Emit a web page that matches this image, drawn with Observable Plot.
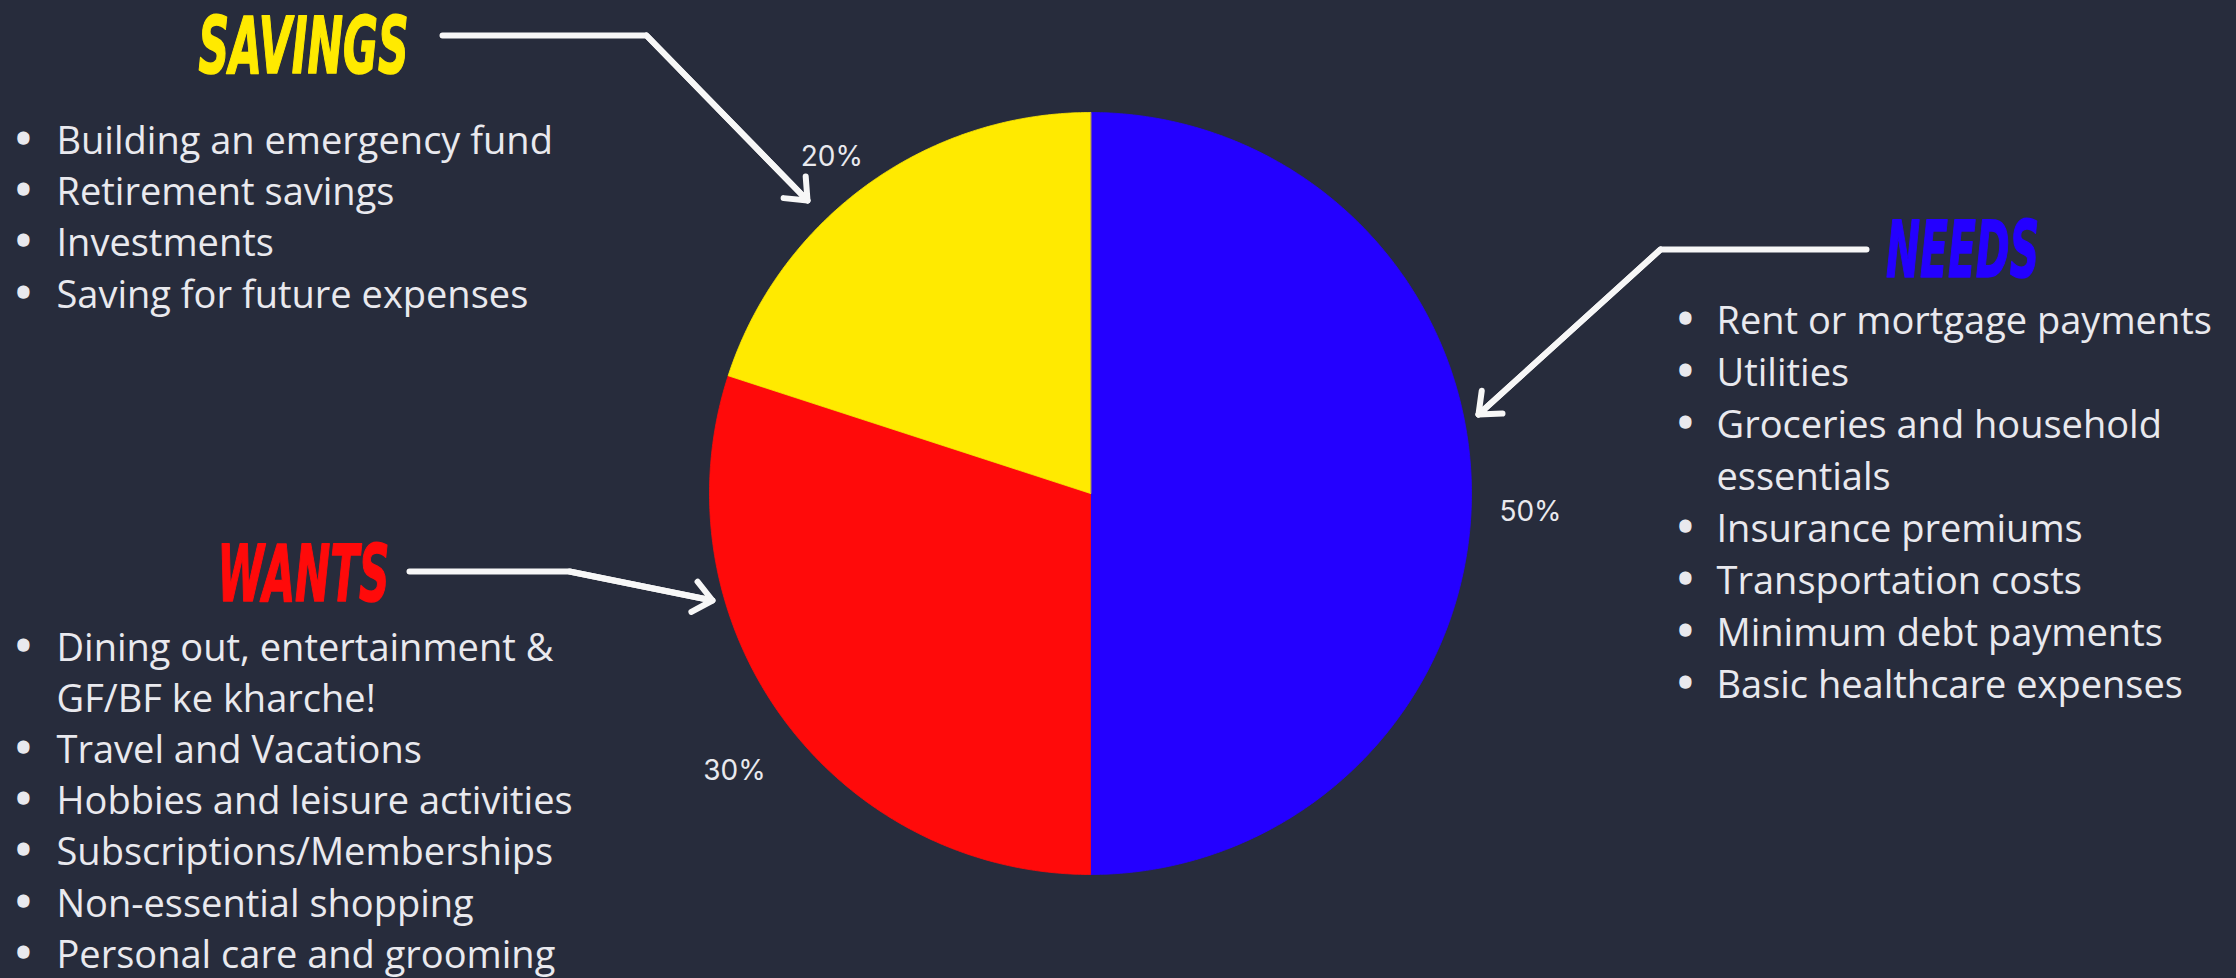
<!DOCTYPE html>
<html><head><meta charset="utf-8">
<script src="https://cdn.jsdelivr.net/npm/d3@7"></script>
<script src="https://cdn.jsdelivr.net/npm/@observablehq/plot@0.6"></script>
<style>
html,body{margin:0;padding:0;background:#272c3c;overflow:hidden;}
#chart svg{display:block;}
</style></head><body><div id="chart"></div>
<script>
// ---- data ----
const categories = ["Needs", "Wants", "Savings"];
const shares = [50, 30, 20];
const shareLabels = ["50%", "30%", "20%"];
const titles = ["NEEDS", "WANTS", "SAVINGS"];
const sliceColors = ["#2400ff", "#ff0a0a", "#ffea00"];
const needsItems = ["Rent or mortgage payments", "Utilities", "Groceries and household\nessentials", "Insurance premiums", "Transportation costs", "Minimum debt payments", "Basic healthcare expenses"];
const wantsItems = ["Dining out, entertainment &\nGF/BF ke kharche!", "Travel and Vacations", "Hobbies and leisure activities", "Subscriptions/Memberships", "Non-essential shopping", "Personal care and grooming"];
const savingsItems = ["Building an emergency fund", "Retirement savings", "Investments", "Saving for future expenses"];

// ---- layout ----
const W = 2236, H = 978;
const BG = "#272c3c";
const TEXT = "#e9e9ee";
const pie = {cx: 1090, cy: 493, r: 381, labelR: 440, labelDy: 19};
const bullet = {lift: 2};
const listLayout = {
  Needs:   {bulletX: 1685, textX: 1716, firstBaseline: 333, step: 52.1},
  Wants:   {bulletX: 23,   textX: 56,   firstBaseline: 660, step: 51.2},
  Savings: {bulletX: 23,   textX: 56,   firstBaseline: 153, step: 51.4}
};
const titleLayout = {
  Needs:   {x: 1962, baseline: 276, length: 153},
  Wants:   {x: 303,  baseline: 600, length: 172},
  Savings: {x: 303,  baseline: 72,  length: 210}
};
const arrowLayout = {
  Needs:   [[1866, 249], [1660, 249], [1478, 414]],
  Wants:   [[409, 571], [569, 571], [712, 600]],
  Savings: [[442, 35], [646, 35], [807, 200]]
};

// ---- derived tables ----
const slices = categories.map((c, i) => ({category: c, share: shares[i], label: shareLabels[i], title: titles[i], color: sliceColors[i]}));
const arcs = d3.pie().sort(null).value(d => d.share)(slices);
const slicePolys = arcs.map(a => {
  const pts = [{x: pie.cx, y: pie.cy}];
  const n = Math.ceil((a.endAngle - a.startAngle) / (Math.PI / 360));
  for (let k = 0; k <= n; k++) {
    const t = a.startAngle + (a.endAngle - a.startAngle) * k / n;
    pts.push({x: pie.cx + pie.r * Math.sin(t), y: pie.cy - pie.r * Math.cos(t)});
  }
  return {color: a.data.color, pts};
});
const pctLabels = arcs.map(a => {
  const t = (a.startAngle + a.endAngle) / 2;
  return {text: a.data.label, x: pie.cx + pie.labelR * Math.sin(t), y: pie.cy - pie.labelR * Math.cos(t) + pie.labelDy};
});

function listRows(items, lay) {
  const rows = []; let i = 0;
  items.forEach(item => item.split("\n").forEach((line, j) => {
    rows.push({line, bullet: j === 0, x: lay.textX, bx: lay.bulletX, y: lay.firstBaseline + i * lay.step});
    i++;
  }));
  return rows;
}
const rows = [
  ...listRows(needsItems, listLayout.Needs),
  ...listRows(wantsItems, listLayout.Wants),
  ...listRows(savingsItems, listLayout.Savings)
];
const bulletRows = rows.filter(r => r.bullet).map(r => ({x: r.bx, y: r.y - bullet.lift}));
const titleRows = slices.map(s => ({text: s.title, color: s.color, ...titleLayout[s.category]}));
const arrowPts = categories.flatMap(c => arrowLayout[c].map(([x, y]) => ({c, x, y})));
const arrowHeads = categories.map(c => {
  const p = arrowLayout[c]; const a = p[p.length - 2], b = p[p.length - 1];
  return {x1: a[0], y1: a[1], x2: b[0], y2: b[1]};
});

const listFont = {fontFamily: "'Open Sans', 'Noto Sans', sans-serif", fontSize: 38, fill: TEXT, lineAnchor: "bottom"};

const chart = Plot.plot({
  width: W, height: H, margin: 0,
  x: {domain: [0, W], range: [0, W], axis: null},
  y: {domain: [0, H], range: [0, H], axis: null},
  style: {background: BG, overflow: "hidden"},
  marks: [
    ...slicePolys.map(s => Plot.line(s.pts, {x: "x", y: "y", fill: s.color, stroke: s.color, strokeWidth: 0.8, curve: "linear-closed"})),
    Plot.text(pctLabels, {x: "x", y: "y", text: "text", fill: TEXT, fontSize: 28, fontFamily: "Inter, 'Open Sans', sans-serif"}),
    Plot.line(arrowPts, {x: "x", y: "y", z: "c", stroke: "#f7f7f7", strokeWidth: 6, strokeLinejoin: "miter", strokeLinecap: "round"}),
    Plot.arrow(arrowHeads, {x1: "x1", y1: "y1", x2: "x2", y2: "y2", stroke: "#f7f7f7", strokeWidth: 6, headLength: 6, headAngle: 80, strokeLinecap: "round", strokeLinejoin: "round"}),
    Plot.text(rows, {x: "x", y: "y", text: "line", textAnchor: "start", ...listFont}),
    Plot.text(bulletRows, {x: "x", y: "y", text: () => "\u2022", textAnchor: "middle", ...listFont, fontWeight: "bold", stroke: TEXT, strokeWidth: 1.5}),
    Plot.text(titleRows, {x: "x", y: "baseline", text: "text", fill: "color", stroke: "color", strokeWidth: 1.5, lineAnchor: "bottom", textAnchor: "middle",
      fontSize: 78, fontWeight: "bold", fontStyle: "italic", fontFamily: "'Liberation Sans Narrow', 'DejaVu Sans Condensed', 'DejaVu Sans', sans-serif"})
  ]
});

// squeeze the condensed titles to their measured widths
const lengths = Object.fromEntries(titleRows.map(t => [t.text, t.length]));
chart.querySelectorAll("text").forEach(el => {
  const k = el.textContent;
  if (lengths[k] !== undefined && el.getAttribute("fill") !== TEXT) {
    el.setAttribute("textLength", lengths[k]);
    el.setAttribute("lengthAdjust", "spacingAndGlyphs");
  }
});
document.getElementById("chart").appendChild(chart);
</script>
</body></html>
